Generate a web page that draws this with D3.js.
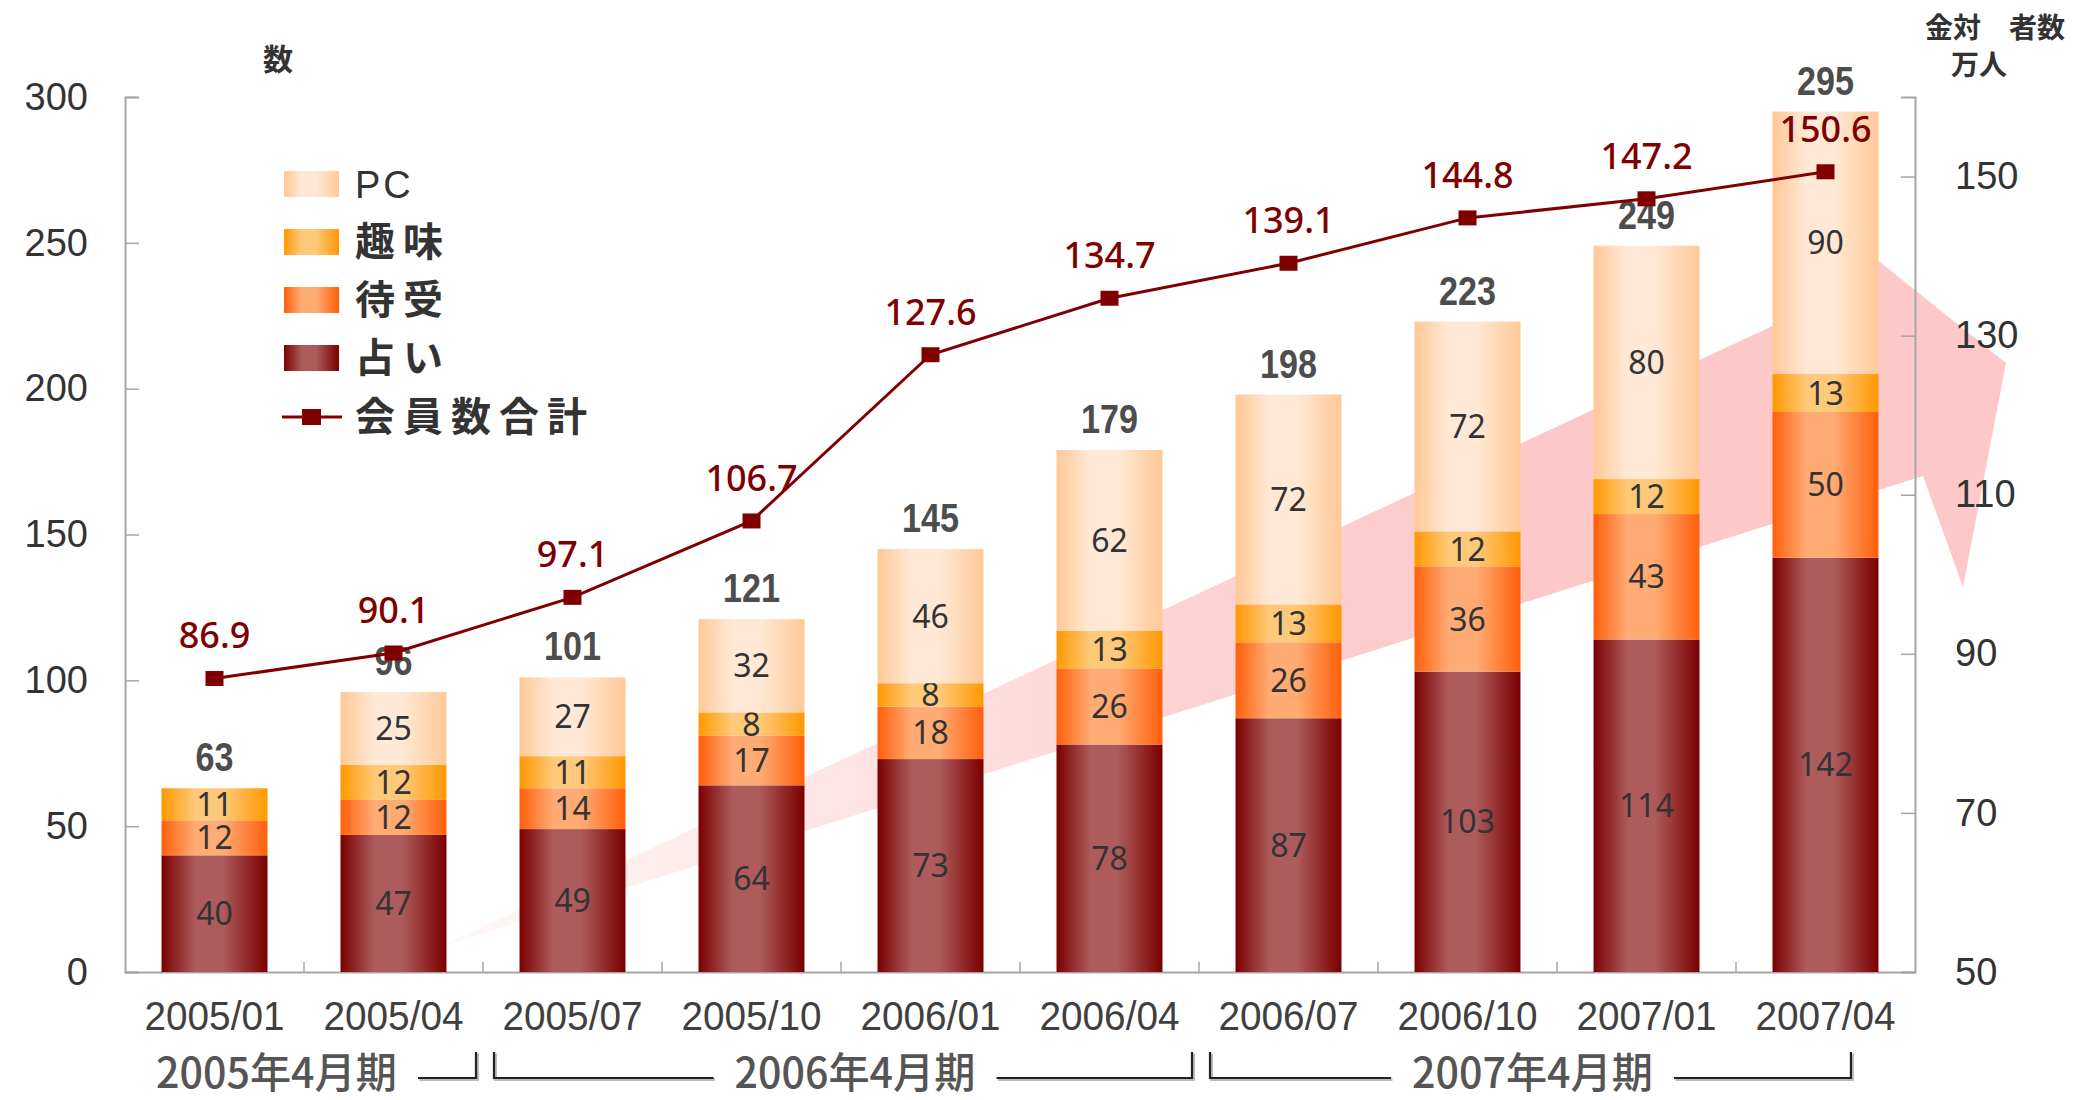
<!DOCTYPE html>
<html>
<head>
<meta charset="utf-8">
<script src="https://cdn.jsdelivr.net/npm/d3@7"></script>
<style>
  body { margin: 0; background: #fff; }
  svg { display: block; }
</style>
</head>
<body>
<svg id="drawing_region"></svg>
<script>
// categories and values
const categories = ['2005/01', '2005/04', '2005/07', '2005/10', '2006/01',
                    '2006/04', '2006/07', '2006/10', '2007/01', '2007/04'];
const uranai   = [40, 47, 49, 64, 73, 78, 87, 103, 114, 142];
const machiuke = [12, 12, 14, 17, 18, 26, 26, 36, 43, 50];
const shumi    = [11, 12, 11, 8, 8, 13, 13, 12, 12, 13];
const pc       = [0, 25, 27, 32, 46, 62, 72, 72, 80, 90];
const members  = [86.9, 90.1, 97.1, 106.7, 127.6, 134.7, 139.1, 144.8, 147.2, 150.6];
const seriesNames = ['占い', '待受', '趣味', 'PC'];
const lineName = '会員数合計';
const leftTicks = [0, 50, 100, 150, 200, 250, 300];
const rightTicks = [50, 70, 90, 110, 130, 150];
const periods = ['2005年4月期', '2006年4月期', '2007年4月期'];
const periodFirst = ['2005/01', '2005/07', '2006/07'];
const periodLast  = ['2005/04', '2006/04', '2007/04'];

// edge colour / centre colour of each series gradient
const gradColors = {
    '占い': ['#7a0000', '#ad5b5b'],
    '待受': ['#ff5f0a', '#ffab74'],
    '趣味': ['#ff9800', '#ffc97a'],
    'PC':   ['#ffc896', '#ffe9d6']
};

class stackedLineChart {

    constructor(config) {
        this.config = config;
        this.init();
    }

    init() {
        let self = this;
        const m = self.config.margin;
        self.svg = d3.select(self.config.parent)
            .attr('width', self.config.width)
            .attr('height', self.config.height);
        self.inner_width = self.config.width - m.left - m.right;
        self.inner_height = self.config.height - m.top - m.bottom;

        const defs = self.svg.append('defs');
        seriesNames.forEach((s, i) => {
            const g = defs.append('linearGradient')
                .attr('id', 'grad' + i)
                .attr('x1', 0).attr('x2', 1).attr('y1', 0).attr('y2', 0);
            [[0, 0], [0.32, 1], [0.58, 1], [1, 0]].forEach(st => {
                g.append('stop').attr('offset', st[0]).attr('stop-color', gradColors[s][st[1]]);
            });
        });
        const ag = defs.append('linearGradient')
            .attr('id', 'arrowgrad')
            .attr('gradientUnits', 'userSpaceOnUse')
            .attr('x1', 440).attr('x2', 1500).attr('y1', 0).attr('y2', 0);
        ag.append('stop').attr('offset', 0).attr('stop-color', '#fcc8c8').attr('stop-opacity', 0.12);
        ag.append('stop').attr('offset', 0.7).attr('stop-color', '#fcc8c8').attr('stop-opacity', 0.8);
        ag.append('stop').attr('offset', 1).attr('stop-color', '#fcc8c8').attr('stop-opacity', 1);

        // decorative growth arrow behind everything
        self.svg.append('path')
            .attr('d', 'M440,947 L1850,290 L1850,238 L2006,363 L1963,587 L1923,476 Z')
            .attr('fill', 'url(#arrowgrad)');

        self.chart = self.svg.append('g')
            .attr('transform', `translate(${m.left}, ${m.top})`);

        self.xscale = d3.scaleBand()
            .domain(categories)
            .range([0, self.inner_width])
            .paddingInner(0.408)
            .paddingOuter(0.204);
        self.yscale = d3.scaleLinear().domain([0, 300]).range([self.inner_height, 0]);
        self.y2scale = d3.scaleLinear().domain([50, 160]).range([self.inner_height, 0]);
    }

    render() {
        let self = this;
        const x = self.xscale, y = self.yscale, y2 = self.y2scale;
        const bw = x.bandwidth();
        const numFont = '"Liberation Sans", Arial, sans-serif';
        const valFont = '"Noto Sans", "Liberation Sans", sans-serif';
        const jpFont = '"Noto Sans CJK JP", "Noto Sans", sans-serif';

        // axes
        const yaxis = d3.axisLeft(y).tickValues(leftTicks).tickSize(-14).tickPadding(37);
        const y2axis = d3.axisRight(y2).tickValues(rightTicks).tickSize(-14).tickPadding(40);
        const xaxis = d3.axisBottom(x).tickSize(0).tickSizeOuter(0).tickPadding(30);

        const styleAxis = g => {
            g.selectAll('path.domain').attr('stroke', '#a6a6a6').attr('stroke-width', 2);
            g.selectAll('line').attr('stroke', '#a6a6a6').attr('stroke-width', 1.5);
            g.selectAll('text').attr('fill', '#333').attr('font-family', numFont);
        };
        self.chart.append('g').call(yaxis).call(styleAxis)
            .selectAll('text').attr('font-size', 38);
        self.chart.append('g').attr('transform', `translate(${self.inner_width}, 0)`)
            .call(y2axis).call(styleAxis)
            .selectAll('text').attr('font-size', 38);
        const xg = self.chart.append('g').attr('transform', `translate(0, ${self.inner_height})`)
            .call(xaxis).call(styleAxis);
        xg.selectAll('text')
            .attr('font-size', 40)
            .attr('fill', '#404040')
            .attr('textLength', 140)
            .attr('lengthAdjust', 'spacingAndGlyphs');
        // ticks between categories
        const step = x.step();
        xg.selectAll('line.sep')
            .data(categories.slice(1))
            .join('line')
            .attr('class', 'sep')
            .attr('x1', d => x(d) - (step - bw) / 2)
            .attr('x2', d => x(d) - (step - bw) / 2)
            .attr('y1', 0).attr('y2', -10)
            .attr('stroke', '#a6a6a6').attr('stroke-width', 1.5);

        // stacked bars
        const table = categories.map((c, i) => ({
            cat: c, '占い': uranai[i], '待受': machiuke[i], '趣味': shumi[i], 'PC': pc[i]
        }));
        const stacked = d3.stack().keys(seriesNames)(table);
        const layers = self.chart.selectAll('g.layer')
            .data(stacked)
            .join('g')
            .attr('class', 'layer')
            .attr('fill', (d, i) => `url(#grad${i})`);
        layers.selectAll('rect')
            .data(d => d.filter(p => p[1] - p[0] > 0))
            .join('rect')
            .attr('x', d => x(d.data.cat))
            .attr('width', bw)
            .attr('y', d => y(d[1]))
            .attr('height', d => y(d[0]) - y(d[1]));
        layers.selectAll('text')
            .data(d => d.filter(p => p[1] - p[0] > 0))
            .join('text')
            .attr('x', d => x(d.data.cat) + bw / 2)
            .attr('y', d => (y(d[0]) + y(d[1])) / 2)
            .attr('dy', '0.36em')
            .attr('text-anchor', 'middle')
            .attr('font-family', valFont)
            .attr('font-size', 32)
            .attr('fill', '#333')
            .text(d => d[1] - d[0]);

        // totals
        const totals = table.map(d => seriesNames.reduce((a, s) => a + d[s], 0));
        self.chart.selectAll('text.total')
            .data(totals)
            .join('text')
            .attr('class', 'total')
            .attr('x', (d, i) => x(categories[i]) + bw / 2)
            .attr('y', d => y(d) - 17)
            .attr('text-anchor', 'middle')
            .attr('font-family', numFont)
            .attr('font-weight', 'bold')
            .attr('font-size', 40)
            .attr('fill', '#4d4d4d')
            .attr('textLength', d => String(d).length * 19)
            .attr('lengthAdjust', 'spacingAndGlyphs')
            .text(d => d);

        // member line
        const line = d3.line()
            .x((d, i) => x(categories[i]) + bw / 2)
            .y(d => y2(d));
        self.chart.append('path')
            .attr('d', line(members))
            .attr('fill', 'none')
            .attr('stroke', '#800000')
            .attr('stroke-width', 3);
        self.chart.selectAll('rect.mark')
            .data(members)
            .join('rect')
            .attr('class', 'mark')
            .attr('x', (d, i) => x(categories[i]) + bw / 2 - 9)
            .attr('y', d => y2(d) - 7.5)
            .attr('width', 18).attr('height', 15)
            .attr('fill', '#800000');
        self.chart.selectAll('text.mlabel')
            .data(members)
            .join('text')
            .attr('class', 'mlabel')
            .attr('x', (d, i) => x(categories[i]) + bw / 2)
            .attr('y', d => y2(d) - 30)
            .attr('text-anchor', 'middle')
            .attr('font-family', valFont)
            .attr('font-weight', 500)
            .attr('font-size', 36)
            .attr('fill', '#7f0000')
            .text(d => d.toFixed(1));

        // axis titles
        self.svg.append('text')
            .attr('x', 278).attr('y', 70)
            .attr('text-anchor', 'middle')
            .attr('font-family', jpFont).attr('font-weight', 'bold')
            .attr('font-size', 30).attr('fill', '#333')
            .text('数');
        self.svg.append('text')
            .attr('x', 1995).attr('y', 38)
            .attr('text-anchor', 'middle')
            .attr('font-family', jpFont).attr('font-weight', 'bold')
            .attr('font-size', 28).attr('fill', '#333')
            .text('金対　者数');
        self.svg.append('text')
            .attr('x', 1979).attr('y', 75)
            .attr('text-anchor', 'middle')
            .attr('font-family', jpFont).attr('font-weight', 'bold')
            .attr('font-size', 28).attr('fill', '#333')
            .text('万人');

        // legend
        const legend = self.svg.append('g').attr('transform', 'translate(284, 171)');
        const legendItems = seriesNames.slice().reverse();
        legendItems.forEach((s, i) => {
            const ascii = /^[A-Za-z]+$/.test(s);
            const gi = legend.append('g').attr('transform', `translate(0, ${i * 58})`);
            gi.append('rect')
                .attr('width', 55).attr('height', 26)
                .attr('fill', `url(#grad${seriesNames.indexOf(s)})`);
            gi.append('text')
                .attr('x', 71).attr('y', 13).attr('dy', '0.36em')
                .attr('font-family', ascii ? numFont : jpFont)
                .attr('font-weight', ascii ? 'normal' : 'bold')
                .attr('font-size', ascii ? 38 : 40)
                .attr('letter-spacing', ascii ? 3 : 8)
                .attr('fill', '#333')
                .text(s);
        });
        const gl = legend.append('g').attr('transform', `translate(0, ${4 * 58})`);
        gl.append('line').attr('x1', -2).attr('x2', 58).attr('y1', 14).attr('y2', 14)
            .attr('stroke', '#800000').attr('stroke-width', 3);
        gl.append('rect').attr('x', 18).attr('y', 6).attr('width', 19).attr('height', 16)
            .attr('fill', '#800000');
        gl.append('text')
            .attr('x', 71).attr('y', 14).attr('dy', '0.36em')
            .attr('font-family', jpFont).attr('font-weight', 'bold')
            .attr('font-size', 40).attr('letter-spacing', 8).attr('fill', '#333')
            .text(lineName);

        // fiscal period brackets under the axis
        const top = self.config.height - 48, bot = self.config.height - 22;
        const pg = self.chart.append('g').attr('transform', `translate(0, ${-self.config.margin.top})`);
        periods.forEach((p, i) => {
            const last = i === periods.length - 1;
            const x0 = x(periodFirst[i]) - (step - bw) / 2 + (i === 0 ? 0 : 11);
            const x1 = last ? x(periodLast[i]) + bw * 0.74
                            : x(periodLast[i]) + bw + (step - bw) / 2 - 7;
            const cx = i === 0 ? (x0 + x1) / 2 - 24 : (x0 + x1) / 2 + (last ? 2 : 12);
            const tw = 241, gap = 21;
            const tl = cx - tw / 2 - gap, tr = cx + tw / 2 + gap;
            const path = [];
            if (tl > x0 + 40) path.push(`M${x0},${top}V${bot}H${tl}`);
            path.push(`M${tr},${bot}H${x1}V${top}`);
            pg.append('path')
                .attr('d', path.join(''))
                .attr('fill', 'none')
                .attr('stroke', '#bbb').attr('stroke-width', 3)
                .attr('transform', 'translate(1.5, 1.5)');
            pg.append('path')
                .attr('d', path.join(''))
                .attr('fill', 'none')
                .attr('stroke', '#222').attr('stroke-width', 2.2);
            pg.append('text')
                .attr('x', cx).attr('y', self.config.height - 12)
                .attr('text-anchor', 'middle')
                .attr('font-family', jpFont)
                .attr('font-weight', 500)
                .attr('font-size', 42)
                .attr('fill', '#555')
                .attr('textLength', tw)
                .attr('lengthAdjust', 'spacingAndGlyphs')
                .text(p);
        });
    }
}

const config = {
    parent: '#drawing_region',
    width: 2076,
    height: 1100,
    margin: { top: 97, right: 161, bottom: 128, left: 125 }
};
const chart = new stackedLineChart(config);
chart.render();
</script>
</body>
</html>
